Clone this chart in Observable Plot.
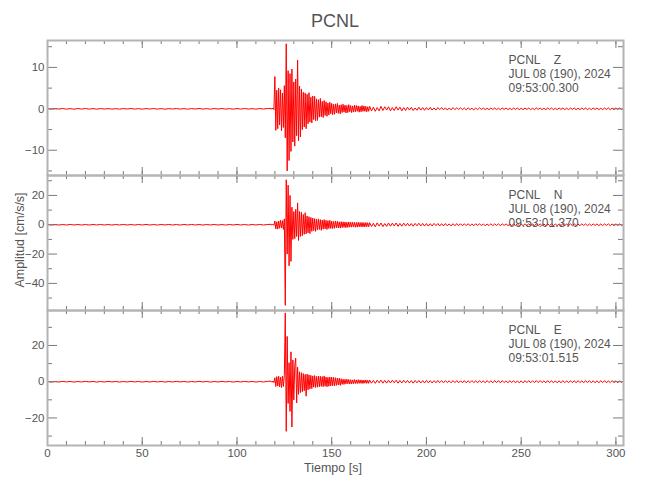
<!DOCTYPE html>
<html><head><meta charset="utf-8">
<script src="https://cdn.jsdelivr.net/npm/d3@7"></script>
<script src="https://cdn.jsdelivr.net/npm/@observablehq/plot@0.6"></script>
<style>
body{margin:0;background:#fff;}
#wrap{position:relative;width:650px;height:500px;font-family:"Liberation Sans",Arial,sans-serif;color:#555;}
#title{position:absolute;top:11px;left:0;width:670px;text-align:center;font-size:18px;}
#xlab{position:absolute;top:461px;left:0;width:666px;text-align:center;font-size:12.5px;}
#ylab{position:absolute;left:20px;top:240px;transform:translate(-50%,-50%) rotate(-90deg);white-space:nowrap;font-size:12.5px;}
.pnl{position:absolute;left:0;}
</style></head>
<body><div id="wrap"></div>
<script>
// ---- text ----
const station = "PCNL";
const components = ["Z", "N", "E"];
const dateLine = "JUL 08 (190), 2024";
const startTimes = ["09:53:00.300", "09:53:01.370", "09:53:01.515"];
const xTitle = "Tiempo [s]";
const yTitle = "Amplitud [cm/s/s]";

// ---- axes ----
const xDomain = [0, 304];
const xLabelTicks = [0, 50, 100, 150, 200, 250, 300];
const xMinorTicks = [0,10,20,30,40,50,60,70,80,90,100,110,120,130,140,150,160,170,180,190,200,210,220,230,240,250,260,270,280,290,300];
const yDomains = [[-16.1, 16.5], [-58.5, 33.6], [-35.2, 39.3]];
const yLabelTicks = [[-10, 0, 10], [-40, -20, 0, 20], [-20, 0, 20]];
const yMinorTicks = [[-15, -5, 5, 15], [-50, -30, -10, 10, 30], [-30, -10, 10, 30]];

// ---- sampling of the traces (seconds) ----
const preStart = 0, preStep = 2;
const mainStart = 118, mainStep = 0.5;
const codaStart = 170, codaStep = 1;

// ---- Z component (cm/s/s) ----
const zPre = [0.06,-0.08,0.07,-0.05,0.08,-0.07,0.05,-0.08,0.07,-0.06,0.08,-0.06,0.05,-0.08,0.07,-0.05,0.06,-0.07,0.05,-0.08,0.07,-0.05,0.08,-0.06,0.05,-0.08,0.06,-0.05,0.08,-0.07,0.05,-0.08,0.06,-0.05,0.08,-0.07,0.05,-0.08,0.07,-0.05,0.08,-0.06,0.05,-0.08,0.07,-0.05,0.08,-0.06,0.05,-0.08,0.07,-0.05,0.08,-0.06,0.05,-0.08,0.07,-0.05,0.08];
const zMain = [0.1,-0.1,0.2,-0.2,
 7.8,-5.2,4.5,-4.8,5.0,-3.9,4.6,-5.3,3.8,-4.5,
 5.6,-7.0,15.7,-15.0,9.2,-12.5,8.5,-10.3,9.6,-8.0,
 6.5,-9.0,7.2,-6.5,11.8,-7.7,5.5,-6.8,4.8,-5.0,
 4.0,-4.4,3.8,-4.8,3.5,-3.6,3.9,-3.2,2.8,-3.4,
 3.1,-2.6,3.0,-2.9,2.4,-2.8,2.2,-2.0,2.5,-1.9,
 1.8,-2.1,2.0,-1.6,1.7,-1.8,1.4,-1.5,1.6,-1.2,
 1.3,-1.4,1.1,-1.3,1.2,-1.0,1.3,-1.1,0.9,-1.2,
 1.0,-0.9,1.1,-0.8,0.9,-1.0,0.8,-0.9,1.0,-0.7,
 0.8,-0.9,0.7,-0.8,0.9,-0.7,0.8,-0.6,0.7,-0.8,
 0.6,-0.7,0.8,-0.6,0.7,-0.6,0.6,-0.7,0.5,-0.6];
const zCoda = [
 0.6,-0.5,0.4,-0.6,0.3,-0.5,0.6,-0.4,0.5,-0.3,
 0.5,-0.5,0.3,-0.4,0.5,-0.3,0.4,-0.5,0.3,-0.4,
 0.4,-0.3,0.35,-0.4,0.2,-0.35,0.4,-0.3,0.3,-0.35,
 0.3,-0.25,0.35,-0.3,0.2,-0.3,0.3,-0.2,0.3,-0.25,
 0.25,-0.3,0.2,-0.25,0.3,-0.2,0.25,-0.15,0.25,-0.2,
 0.2,-0.25,0.25,-0.2,0.15,-0.25,0.2,-0.2,0.25,-0.15,
 0.2,-0.2,0.15,-0.2,0.2,-0.15,0.2,-0.2,0.15,-0.2,
 0.2,-0.15,0.2,-0.2,0.15,-0.2,0.2,-0.15,0.2,-0.2,
 0.15,-0.2,0.2,-0.15,0.2,-0.2,0.15,-0.2,0.2,-0.15,
 0.2,-0.2,0.15,-0.2,0.2,-0.15,0.2,-0.2,0.15,-0.2,
 0.2,-0.15,0.2,-0.2,0.15,-0.2,0.2,-0.15,0.2,-0.2,
 0.15,-0.2,0.2,-0.15,0.2,-0.2,0.15,-0.2,0.2,-0.15,
 0.2,-0.2,0.15,-0.2,0.2,-0.15,0.2,-0.2,0.15,-0.2,
 0.2,-0.15,0.2,-0.2,0.15];

// ---- N component ----
const nPre = [0.2,-0.15,0.18,-0.2,0.15,-0.18,0.2,-0.15,0.18,-0.2,0.15,-0.2,0.18,-0.15,0.2,-0.18,0.15,-0.2,0.18,-0.15,0.2,-0.18,0.15,-0.2,0.18,-0.15,0.2,-0.18,0.15,-0.2,0.18,-0.15,0.2,-0.18,0.15,-0.2,0.18,-0.15,0.2,-0.18,0.15,-0.2,0.18,-0.15,0.2,-0.18,0.15,-0.2,0.18,-0.15,0.2,-0.18,0.15,-0.2,0.18,-0.15,0.2,-0.18,0.15];
const nMain = [0.3,-0.3,0.4,-0.4,
 2.5,-2.8,2.0,-3.0,2.6,-2.4,3.0,-2.2,2.8,-3.2,
 4.0,-55.0,30.7,-20.0,27.0,-28.0,20.0,-25.0,12.0,-10.0,
 9.0,-9.5,10.5,-8.0,14.9,-10.7,9.0,-8.0,8.5,-7.5,
 7.0,-6.5,8.2,-6.2,6.0,-5.5,5.5,-6.0,5.0,-4.5,
 4.5,-4.0,4.2,-4.5,3.8,-3.5,4.0,-3.2,3.5,-3.8,
 3.2,-3.0,3.5,-2.8,3.0,-3.2,2.8,-2.6,3.0,-2.5,
 2.5,-2.6,2.2,-2.4,2.6,-2.0,2.3,-2.2,2.0,-2.3,
 2.1,-1.9,2.0,-1.8,1.9,-2.0,1.7,-1.8,1.9,-1.6,
 1.8,-1.6,1.7,-1.5,1.6,-1.7,1.5,-1.6,1.7,-1.4,
 1.5,-1.4,1.6,-1.5,1.4,-1.5,1.5,-1.3,1.4,-1.4];
const nCoda = [
 1.4,-1.2,1.0,-1.4,1.3,-0.9,1.2,-1.3,0.8,-1.1,
 1.2,-1.0,1.1,-0.8,1.2,-1.1,0.9,-1.0,1.1,-0.8,
 1.0,-0.9,0.8,-1.0,0.9,-0.7,1.0,-0.8,0.9,-0.9,
 0.8,-0.9,0.7,-0.8,0.9,-0.6,0.8,-0.8,0.7,-0.8,
 0.8,-0.7,0.6,-0.8,0.7,-0.7,0.8,-0.6,0.7,-0.7,
 0.7,-0.6,0.7,-0.7,0.6,-0.7,0.7,-0.5,0.7,-0.6,
 0.6,-0.7,0.5,-0.6,0.7,-0.6,0.6,-0.5,0.6,-0.6,
 0.6,-0.5,0.6,-0.6,0.5,-0.6,0.6,-0.5,0.6,-0.6,
 0.5,-0.6,0.6,-0.5,0.6,-0.6,0.5,-0.6,0.6,-0.5,
 0.6,-0.6,0.5,-0.6,0.6,-0.5,0.6,-0.6,0.5,-0.6,
 0.6,-0.5,0.6,-0.6,0.5,-0.6,0.6,-0.5,0.6,-0.6,
 0.5,-0.6,0.6,-0.5,0.6,-0.6,0.5,-0.6,0.6,-0.5,
 0.6,-0.6,0.5,-0.6,0.6,-0.5,0.6,-0.6,0.5,-0.6,
 0.6,-0.5,0.6,-0.6,0.5];

// ---- E component ----
const ePre = [0.15,-0.2,0.12,-0.15,0.2,-0.12,0.15,-0.2,0.12,-0.15,0.2,-0.12,0.15,-0.2,0.12,-0.15,0.2,-0.12,0.15,-0.2,0.12,-0.15,0.2,-0.12,0.15,-0.2,0.12,-0.15,0.2,-0.12,0.15,-0.2,0.12,-0.15,0.2,-0.12,0.15,-0.2,0.12,-0.15,0.2,-0.12,0.15,-0.2,0.12,-0.15,0.2,-0.12,0.15,-0.2,0.12,-0.15,0.2,-0.12,0.15,-0.2,0.12,-0.15,0.2];
const eMain = [0.3,-0.3,0.4,-0.5,
 2.2,-2.6,2.8,-2.4,3.0,-2.8,2.5,-3.2,3.0,-2.6,
 3.5,38.0,-27.4,25.0,-12.0,10.5,-16.4,16.5,-25.0,12.0,
 -10.0,9.0,13.0,-11.7,8.0,-7.0,5.5,-6.0,5.0,-5.5,
 4.5,-5.0,4.0,-8.0,4.2,-4.5,3.8,-4.0,3.5,-3.8,
 3.2,-3.0,3.4,-3.2,2.9,-3.0,3.1,-2.8,3.0,-2.6,
 2.8,-2.7,3.2,-2.5,2.6,-2.8,2.4,-2.5,2.6,-2.3,
 2.5,-2.2,2.4,-2.3,2.2,-2.0,2.0,-1.8,1.9,-2.0,
 1.6,-1.5,1.4,-1.5,1.3,-1.2,1.4,-1.1,1.2,-1.3,
 1.1,-1.2,1.0,-1.1,1.2,-1.0,1.0,-1.0,1.1,-0.9,
 1.0,-0.9,0.9,-1.0,0.9,-0.8,1.0,-0.9,0.8,-0.9];
const eCoda = [
 0.9,-0.8,0.7,-0.9,0.8,-0.6,0.9,-0.8,0.7,-0.8,
 0.8,-0.7,0.8,-0.6,0.8,-0.8,0.7,-0.7,0.8,-0.6,
 0.7,-0.7,0.6,-0.8,0.7,-0.6,0.7,-0.7,0.6,-0.7,
 0.7,-0.6,0.6,-0.7,0.6,-0.6,0.7,-0.5,0.6,-0.6,
 0.6,-0.5,0.5,-0.6,0.6,-0.5,0.6,-0.6,0.5,-0.6,
 0.6,-0.6,0.5,-0.5,0.6,-0.5,0.5,-0.6,0.6,-0.5,
 0.5,-0.6,0.6,-0.5,0.5,-0.6,0.6,-0.5,0.6,-0.6,
 0.6,-0.5,0.5,-0.6,0.6,-0.5,0.6,-0.6,0.5,-0.6,
 0.5,-0.6,0.6,-0.5,0.6,-0.6,0.5,-0.5,0.6,-0.5,
 0.6,-0.5,0.5,-0.6,0.6,-0.5,0.6,-0.6,0.5,-0.6,
 0.5,-0.6,0.6,-0.5,0.5,-0.6,0.6,-0.5,0.6,-0.6,
 0.6,-0.5,0.5,-0.6,0.6,-0.5,0.6,-0.6,0.5,-0.6,
 0.5,-0.6,0.6,-0.5,0.6,-0.6,0.5,-0.5,0.6,-0.5,
 0.5,-0.6,0.5,-0.5,0.6];

const traces = [[zPre, zMain, zCoda], [nPre, nMain, nCoda], [ePre, eMain, eCoda]];

function toSamples([pre, main, coda]) {
  const out = [];
  pre.forEach((v, i) => out.push({t: preStart + i * preStep, v}));
  main.forEach((v, i) => out.push({t: mainStart + i * mainStep, v}));
  coda.forEach((v, i) => out.push({t: codaStart + i * codaStep, v}));
  return out;
}

const wrap = document.getElementById("wrap");
const title = document.createElement("div"); title.id = "title"; title.textContent = station; wrap.appendChild(title);

const ML = 47, MR = 27, PH = 135, PW = 650 - ML - MR;
const tops = [35, 170, 305];
const FRAME = "#b4b4b4", TICK = "#7a7a7a", TXT = "#555";
const FONT = '"Liberation Sans",Arial,sans-serif';

for (let k = 0; k < 3; k++) {
  const last = k === 2;
  const mt = 5, mb = last ? 50 : 5;
  const marks = [
    Plot.line(toSamples(traces[k]), {x: "t", y: "v", stroke: "#ff0000", strokeWidth: 1}),
    Plot.tickX(xMinorTicks, {x: d => d, stroke: TICK, insetBottom: PH - 4}),
    Plot.tickX(xLabelTicks, {x: d => d, stroke: TICK, insetBottom: PH - 8}),
    Plot.tickX(xMinorTicks, {x: d => d, stroke: TICK, insetTop: PH - 4}),
    Plot.tickX(xLabelTicks, {x: d => d, stroke: TICK, insetTop: PH - 8}),
    Plot.tickY(yMinorTicks[k], {y: d => d, stroke: TICK, insetRight: PW - 5}),
    Plot.tickY(yLabelTicks[k], {y: d => d, stroke: TICK, insetRight: PW - 10}),
    Plot.tickY(yMinorTicks[k], {y: d => d, stroke: TICK, insetLeft: PW - 5}),
    Plot.tickY(yLabelTicks[k], {y: d => d, stroke: TICK, insetLeft: PW - 10}),
    Plot.frame({stroke: FRAME, strokeWidth: 2}),
    Plot.axisY(yLabelTicks[k], {tickSize: 0, tickPadding: 3, label: null, fill: TXT, fontSize: 11.5}),
    Plot.text([[station + "\u00a0\u00a0\u00a0\u00a0" + components[k], dateLine, startTimes[k]].join("\n")],
      {text: d => d, frameAnchor: "top-left", dx: 461, dy: 14, lineAnchor: "top", textAnchor: "start", lineHeight: 1.15, fill: TXT, fontSize: 12})
  ];
  if (last) marks.push(Plot.axisX(xLabelTicks, {tickSize: 0, tickPadding: 3, label: null, fill: TXT, fontSize: 11.5}));
  const svg = Plot.plot({
    width: 650, height: PH + mt + mb,
    marginLeft: ML, marginRight: MR, marginTop: mt, marginBottom: mb,
    x: {domain: xDomain, axis: null},
    y: {domain: yDomains[k], axis: null},
    style: {background: "transparent", fontFamily: FONT, fontSize: "12px", color: TXT, overflow: "visible"},
    marks
  });
  svg.classList.add("pnl");
  svg.style.top = tops[k] + "px";
  wrap.appendChild(svg);
}
const xl = document.createElement("div"); xl.id = "xlab"; xl.textContent = xTitle; wrap.appendChild(xl);
const yl = document.createElement("div"); yl.id = "ylab"; yl.textContent = yTitle; wrap.appendChild(yl);
</script></body></html>
